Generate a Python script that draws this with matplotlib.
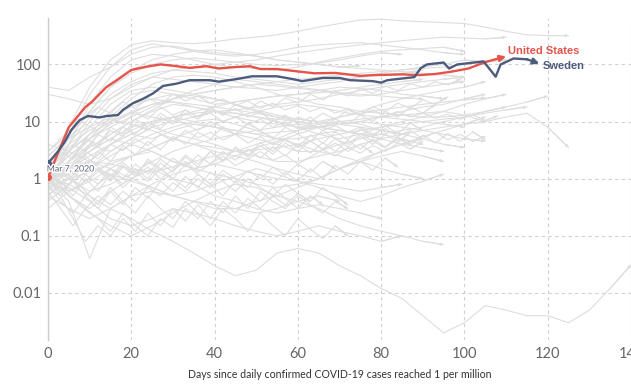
import numpy as np
import matplotlib.pyplot as plt
import matplotlib.patheffects as pe

# highlighted countries
us_days = [0, 2, 5, 9, 10.5, 14, 16.5, 20, 23.5, 27, 30, 34, 38, 41, 45, 48.5, 51, 55, 61, 64,
           69, 75, 78, 85, 89, 93, 97, 101, 105, 110]
us_vals = [1.05, 2.4, 8, 18, 22, 40, 53, 80, 91, 100, 95, 87, 93, 85, 90, 93, 83, 83, 74, 70,
           71, 63, 65, 67, 65, 68, 75, 85, 110, 138]

se_days = [0, 2.4, 4, 5.6, 7.6, 9.6, 12.4, 14, 16.8, 18, 20.4, 22.8, 25.2, 27.6, 30.8, 34, 38.8,
           41, 45, 49, 55, 59, 61, 66, 70, 72.5, 78, 80, 81.5, 88, 89.5, 91, 95, 96.3, 98.3,
           104.6, 107.5, 108.7, 111.8, 115, 118]
se_vals = [1.86, 3.0, 4.4, 7.1, 10.6, 12.5, 11.8, 12.5, 13, 16, 21, 25, 31, 42, 46, 53, 53,
           50, 55, 62, 62, 55, 51, 58, 58, 53, 51, 48, 53, 60, 86, 100, 108, 85, 100,
           113, 61, 100, 127, 123, 104]

# other countries, one value every 5 days from day 0
step = 5
others = [
    [1.2, 8, 40, 120, 220, 260, 240, 230, 250, 280, 300, 330, 380, 450, 520, 600, 620, 580, 560, 540, 520, 450, 380, 330, 320, 320],
    [40, 35, 60, 90, 150, 200, 210, 180, 160, 150, 140, 120, 110, 100, 90, 95],
    [1, 6, 30, 90, 180, 230, 200, 170, 150, 140, 150, 170, 200, 220, 230, 240, 220, 200, 180, 160, 150],
    [0.8, 4, 20, 60, 120, 150, 140, 120, 100, 90, 85, 80, 90, 110, 130, 150, 170, 180, 190, 200, 170],
    [1.5, 5, 15, 40, 70, 100, 120, 130, 120, 110, 100, 95, 100, 105, 120, 140, 160, 150],
    [1, 3, 10, 25, 45, 60, 55, 50, 45, 40, 38, 35, 40, 45, 50, 60, 70, 80, 90, 100, 120, 110],
    [0.7, 2, 6, 15, 30, 35, 30, 25, 20, 22, 25, 28, 30, 35, 40, 38, 35, 30, 28, 25],
    [1.2, 2.5, 5, 8, 12, 18, 25, 30, 35, 40, 45, 42, 38, 35, 30, 28, 30, 35, 40, 45, 50],
    [1, 1.5, 3, 6, 10, 15, 20, 18, 15, 12, 10, 9, 8, 8, 9, 10, 12, 15, 18, 20, 25, 30],
    [0.5, 1, 2, 4, 7, 10, 12, 10, 8, 7, 6, 5, 5, 6, 7, 6, 5, 4, 3.5, 3],
    [1, 0.8, 1.5, 3, 5, 8, 6, 5, 4, 3, 2.5, 2, 2, 2.5, 3, 4, 5, 6, 7, 8, 9, 10],
    [0.3, 0.6, 1, 2, 2.5, 3, 2, 1.5, 1.2, 1, 0.8, 0.7, 0.8, 1, 1.5, 2, 3, 4, 5],
    [1.5, 0.5, 0.3, 0.6, 1, 1.5, 1, 0.8, 0.5, 0.4, 0.3, 0.25, 0.3, 0.35, 0.3, 0.25, 0.2],
    [1, 0.4, 0.04, 0.3, 0.5, 0.6, 0.5, 0.4, 0.3, 0.3, 0.25, 0.3, 0.4, 0.5, 0.4],
    [1, 0.8, 0.5, 0.3, 0.2, 0.12, 0.08, 0.05, 0.03, 0.02, 0.025, 0.05, 0.06, 0.05, 0.03, 0.02, 0.012,
     0.008, 0.004, 0.002, 0.003, 0.006, 0.005, 0.004, 0.004, 0.003, 0.005, 0.012, 0.031],
    [1, 2, 4, 3, 5, 8, 10, 12, 15, 14, 12, 10, 8, 6, 5, 6, 8, 10, 12, 15, 20, 25, 30],
    [2, 3, 2, 4, 6, 5, 7, 9, 8, 6, 5, 4, 3, 3, 4, 5, 6, 5, 4],
    [0.8, 1.2, 2, 1.5, 2.5, 3.5, 5, 4, 3, 2.5, 2, 1.5, 1.2, 1, 1.5, 2, 2.5, 3, 2.5, 2],
    [1, 3, 8, 20, 35, 40, 35, 30, 25, 20, 15, 12, 10, 8, 7, 6, 6, 7, 8, 10, 12, 15, 18],
    [1.3, 4, 12, 30, 50, 70, 80, 75, 70, 60, 55, 50, 45, 50, 55, 60, 65, 70, 80],
    [0.6, 1.5, 4, 10, 20, 25, 22, 18, 15, 16, 18, 20, 22, 25, 30, 35, 40, 45, 50, 55, 60],
    [1, 1.5, 2.5, 4, 6, 9, 12, 15, 18, 22, 25, 28, 30, 32, 35, 40, 45, 50, 55],
    [1.8, 1, 0.6, 0.8, 1.2, 2, 3, 4, 5, 6, 7, 8, 9, 8, 7, 6, 5],
    [0.9, 0.6, 0.9, 1.5, 1, 0.7, 0.5, 0.6, 0.8, 1.1, 1.5, 1.2, 0.9, 0.7, 0.5, 0.4, 0.5, 0.7, 0.9, 1.2],
    [1, 1.8, 3, 5, 4, 3, 2, 1.5, 1.8, 2.5, 3.5, 4.5, 6, 8, 10, 9, 7, 6],
    [2.5, 5, 8, 12, 18, 25, 30, 28, 25, 20, 16, 13, 11, 10, 12, 14, 16, 18, 20, 22, 24, 26],
    [0.4, 0.8, 1.5, 2.5, 4, 6, 8, 10, 11, 9, 7, 5, 4, 3, 2.5, 2, 1.5, 1.2, 1],
    [1.1, 0.7, 0.4, 0.2, 0.15, 0.2, 0.3, 0.25, 0.2, 0.15, 0.12, 0.1, 0.12, 0.15, 0.12, 0.1, 0.08, 0.1],
    [1, 2, 5, 12, 25, 45, 60, 65, 60, 50, 40, 30, 25, 20, 18, 15, 14, 13, 12, 12, 13, 15, 18, 22, 28],
    [1.5, 3, 6, 10, 15, 20, 22, 20, 18, 16, 14, 12, 11, 10, 9, 8, 7, 6, 5, 4, 3.5],
    [0.7, 1, 1.3, 1.8, 2.5, 3.5, 5, 7, 9, 12, 15, 18, 20, 18, 15, 13, 12, 11, 10, 9, 8],
    [1, 0.5, 0.25, 0.15, 0.1, 0.15, 0.25, 0.4, 0.6, 0.8, 0.7, 0.5, 0.4, 0.3, 0.2, 0.15, 0.12, 0.1, 0.08, 0.07],
    [1.2, 2.5, 5, 9, 14, 20, 25, 30, 35, 40, 45, 50, 55, 60, 65, 70, 75, 80, 85, 90, 100, 110, 120],
    [0.9, 1.5, 2, 1.8, 1.5, 1.3, 1.6, 2, 2.5, 3, 4, 5, 7, 9, 12, 15, 20, 25, 30, 35, 40, 50],
    [1, 1.2, 1.5, 1.2, 0.9, 0.7, 0.5, 0.4, 0.35, 0.3, 0.4, 0.5, 0.7, 1, 1.5, 2.2, 3, 4, 5.5, 7, 9, 12],
    [3, 6, 15, 40, 80, 120, 150, 170, 180, 160, 140, 120, 110, 100, 90, 85, 80, 75, 70, 65, 60],
    [1, 2, 3.5, 6, 10, 16, 25, 35, 45, 55, 50, 45, 40, 36, 32, 30, 28, 26, 25],
    [0.8, 1.5, 3, 5, 8, 10, 12, 14, 15, 14, 12, 11, 10, 9, 10, 11, 12, 13, 14, 15, 13, 10, 12, 14, 8, 3.5],
    [30, 25, 20, 25, 40, 60, 80, 90, 100, 110, 120, 140, 160, 180, 200, 220, 240, 260, 280, 300, 290, 280, 300],
    [4, 3, 6, 10, 14, 12, 10, 9, 8, 7, 6, 6.5, 7, 8, 9, 10, 9, 8, 7, 6, 5, 4.5],
    [0.5, 0.3, 0.2, 0.3, 0.5, 0.8, 1.2, 1.5, 1.8, 1.5, 1.2, 1, 0.9, 0.8, 0.7, 0.6, 0.7, 0.8],
    [2, 4, 7, 11, 9, 7, 5, 4, 3.5, 3, 3.2, 3.5, 4, 5, 6, 7, 8, 9, 10, 11, 12, 14, 16, 18],
]

# noisier countries, one value every 3 days from day 0
step_b = 3
others_b = [
    [1, 0.6, 0.9, 0.5, 0.8, 1.2, 0.7, 1.1, 1.6, 1.0, 1.4, 2.0, 1.3, 1.8, 2.5, 1.7, 2.2, 3.0, 2.1, 2.6, 1.8, 2.4, 3.2, 2.5, 3.5, 2.8, 3.8, 3.0, 4.2, 3.3, 4.5],
    [1.2, 2.0, 1.5, 3.0, 2.2, 4.0, 3.1, 5.0, 3.8, 6.0, 4.5, 7.0, 5.2, 6.5, 4.8, 6.0, 4.2, 5.5, 3.9, 5.0, 3.5, 4.6, 3.2, 4.2, 3.0, 4.0, 2.8],
    [0.8, 0.4, 0.25, 0.5, 0.3, 0.6, 0.35, 0.7, 0.45, 0.9, 0.6, 1.1, 0.7, 1.3, 0.9, 0.6, 1.0, 0.7, 0.5, 0.8, 0.55, 0.4, 0.7, 0.5, 0.35],
    [1.5, 3, 2.2, 5, 3.6, 8, 6, 11, 8, 14, 10, 16, 12, 18, 13, 17, 12, 15, 10, 13, 9, 12, 8, 11, 9, 13, 10, 15, 12, 18, 14, 20],
    [1, 1.8, 1.2, 2.5, 1.6, 1.1, 1.9, 1.3, 0.9, 1.5, 1.0, 0.7, 1.2, 0.8, 0.5, 0.9, 0.6, 0.4, 0.7, 0.45, 0.3, 0.5, 0.35],
    [0.6, 0.3, 0.15, 0.3, 0.2, 0.12, 0.25, 0.15, 0.1, 0.2, 0.14, 0.3, 0.2, 0.4, 0.25, 0.5, 0.3, 0.6, 0.4, 0.3, 0.5, 0.35, 0.25, 0.4, 0.3],
    [2, 1.2, 2.5, 1.6, 3, 2, 3.8, 2.6, 4.5, 3.2, 5.5, 4, 6.5, 5, 8, 6, 9.5, 7, 11, 8.5, 12, 10, 14, 11, 16, 13, 18, 15, 21, 17, 24, 20, 27],
    [0.9, 1.5, 1, 2, 1.4, 0.9, 1.6, 1.1, 2.2, 1.5, 1, 1.8, 1.2, 0.8, 1.4, 1, 0.7, 1.2, 0.8, 1.3, 0.9, 1.5, 1.0, 1.7, 1.2, 2, 1.4, 2.3, 1.6],
    [1.3, 2.5, 4, 3, 6, 4.5, 8, 6, 10, 7.5, 12, 9, 7, 10, 8, 6, 9, 7, 5, 8, 6, 4.5, 7, 5, 4, 6, 4.5, 3.5, 5, 4],
    [0.7, 0.5, 1, 0.6, 0.35, 0.7, 0.4, 0.25, 0.5, 0.3, 0.2, 0.4, 0.25, 0.15, 0.3, 0.2, 0.12, 0.25, 0.15, 0.1, 0.2, 0.13, 0.09, 0.15, 0.1],
    [1, 2, 3.5, 5, 4, 7, 5.5, 9, 7, 12, 9, 14, 11, 17, 13, 20, 16, 23, 18, 26, 21, 30, 24, 34, 28, 38, 31, 42, 35, 46, 40, 50, 44, 55],
    [1.6, 0.9, 0.5, 1, 0.6, 1.2, 0.8, 1.5, 1, 1.9, 1.3, 2.4, 1.6, 3, 2, 3.6, 2.5, 4.3, 3, 5, 3.6, 5.8, 4.2, 6.6, 4.8, 7.5, 5.5, 8.4, 6.2, 9.4, 7],
    [1, 0.7, 0.45, 0.3, 0.5, 0.35, 0.6, 0.4, 0.7, 0.5, 0.85, 0.6, 1, 0.7, 1.2, 0.85, 1.4, 1, 1.6, 1.15, 1.8, 1.3, 2, 1.5],
    [2.5, 4, 6, 9, 7, 12, 9, 15, 11, 18, 13, 16, 12, 14, 10, 12, 9, 11, 8, 10, 7.5, 9, 7, 8.5, 6.5, 8, 6, 7.5, 5.5, 7, 5, 6.5, 4.8, 6, 4.5, 5.5],
    [0.5, 0.9, 0.6, 1.2, 0.8, 1.5, 1, 1.8, 1.2, 2.2, 1.5, 2.6, 1.8, 3, 2.1, 3.4, 2.4, 3.8, 2.7, 4.2, 3, 4.6, 3.3, 5, 3.6, 5.5, 4, 6, 4.4, 6.5],
    [1, 0.5, 0.2, 0.08, 0.15, 0.1, 0.2, 0.12, 0.25, 0.15, 0.3, 0.18, 0.35, 0.2, 0.4, 0.25, 0.45, 0.3, 0.5, 0.35, 0.55, 0.4],
    [3, 5, 8, 12, 18, 14, 22, 17, 26, 20, 30, 23, 28, 21, 25, 19, 23, 17, 21, 16, 19, 15, 18, 14, 17, 13, 16, 12.5, 15, 12, 14, 11.5, 13.5, 11, 13, 10.5, 12.5],
    [1.2, 0.8, 1.3, 0.9, 1.5, 1, 1.7, 1.2, 2, 1.4, 2.3, 1.6, 2.6, 1.8, 3, 2.1, 3.3, 2.3, 3.6, 2.5, 4, 2.8, 4.3, 3, 4.7, 3.3, 5, 3.6, 5.4, 3.9, 5.8, 4.2, 6.2, 4.5, 6.6, 4.8],
]

x_ticks = [0, 20, 40, 60, 80, 100, 120, 140]
y_ticks = [0.01, 0.1, 1, 10, 100]
y_labels = ['0.01', '0.1', '1', '10', '100']

us_col = '#e5534b'
se_col = '#4e5c7c'
grey = '#dedede'

fig = plt.figure(figsize=(6.31, 3.92), dpi=100)
ax = fig.add_axes([48/631, 52/392, 583/631, 322/392])

for series, st in [(others, step), (others_b, step_b)]:
    for vals in series:
        d = np.arange(len(vals)) * st
        ax.plot(d, vals, color=grey, lw=0.8, zorder=1)
        ax.annotate('', xy=(d[-1], vals[-1]), xytext=(d[-2], vals[-2]),
                    arrowprops=dict(arrowstyle='-|>', color=grey, lw=0.8, mutation_scale=4,
                                    shrinkA=0, shrinkB=0), zorder=1)

for dd, vv, c in [(us_days, us_vals, us_col), (se_days, se_vals, se_col)]:
    ax.plot(dd[:-1], vv[:-1], color=c, lw=1.7, zorder=3, solid_joinstyle='round')
    ax.annotate('', xy=(dd[-1], vv[-1]), xytext=(dd[-2], vv[-2]),
                arrowprops=dict(arrowstyle='-|>', color=c, lw=1.7, mutation_scale=9,
                                shrinkA=0, shrinkB=0), zorder=3)
    ax.plot(dd[0], vv[0], 'o', color=c, ms=4, zorder=4)

ax.text(110.5, 171, 'United States', color=us_col, fontsize=8, fontweight='bold',
        family='Liberation Sans', ha='left', va='center')
ax.text(118.7, 93, 'Sweden', color=se_col, fontsize=8, fontweight='bold',
        family='Liberation Sans', ha='left', va='center')
ax.text(-0.3, 1.48, 'Mar 7, 2020', color='#5b6478', fontsize=6.3, family='Lato',
        ha='left', va='center', zorder=5,
        path_effects=[pe.withStroke(linewidth=2, foreground='white')])

ax.set_yscale('log')
ax.set_xlim(0, 139.5)
ax.set_ylim(0.0015, 650)
ax.set_xticks(x_ticks)
ax.set_yticks(y_ticks)
ax.set_yticklabels(y_labels)
ax.minorticks_off()
ax.tick_params(length=0, labelsize=10.5, labelcolor='#666666', pad=5)
for lab in ax.get_xticklabels() + ax.get_yticklabels():
    lab.set_family('Lato')
ax.set_xlabel('Days since daily confirmed COVID-19 cases reached 1 per million',
              fontsize=7.6, family='Lato', color='#333333', labelpad=6)
ax.grid(True, color='#d0d0d0', ls=(0, (3, 3)), lw=0.8)
ax.set_axisbelow(True)
for s in ['top', 'right', 'bottom']:
    ax.spines[s].set_visible(False)
ax.spines['left'].set_color('#cccccc')
ax.spines['left'].set_linewidth(1)

plt.savefig('out.png', dpi=100)
